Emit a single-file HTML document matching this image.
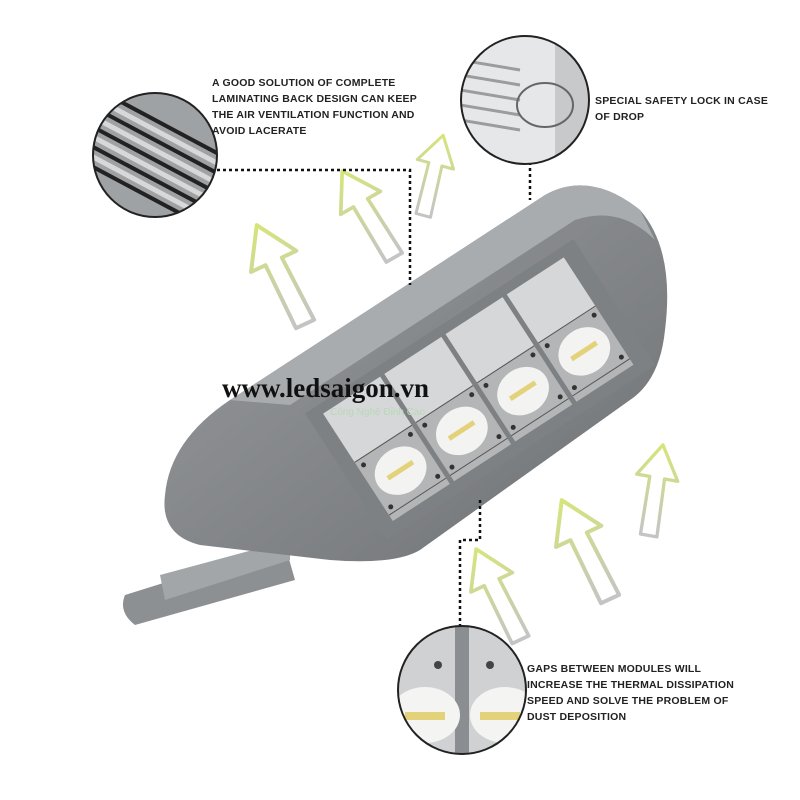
<!DOCTYPE html>
<html><head><style>
body{margin:0;width:800px;height:800px;background:#fff;overflow:hidden}
svg{position:absolute;left:0;top:0}
.t{font-family:"Liberation Sans",sans-serif;font-weight:bold;font-size:10.5px;fill:#222;letter-spacing:0.2px}
</style></head><body>
<svg width="800" height="800" viewBox="0 0 800 800">
<defs>
<linearGradient id="ag" x1="0" y1="0" x2="0" y2="1"><stop offset="0" stop-color="#d6e57a"/><stop offset="1" stop-color="#c4c4c4"/></linearGradient>
<linearGradient id="body" x1="0" y1="0" x2="1" y2="1"><stop offset="0" stop-color="#9a9c9f"/><stop offset="1" stop-color="#6f7275"/></linearGradient>
<symbol id="arr" viewBox="-30 -60 60 120"><path d="M0,-55 L25,-15 L9,-15 L12,55 L-8,55 L-9,-15 L-25,-15 Z" fill="none" stroke="url(#ag)" stroke-width="4" stroke-linejoin="round"/></symbol>
<clipPath id="c1"><circle cx="155" cy="155" r="62"/></clipPath>
<clipPath id="c2"><circle cx="525" cy="100" r="64"/></clipPath>
<clipPath id="c3"><circle cx="462" cy="690" r="64"/></clipPath>
</defs>
<use href="#arr" x="250" y="215" width="60" height="120" transform="rotate(-25 280 275)"/>
<use href="#arr" x="340" y="160" width="55" height="110" transform="rotate(-30 367 215)"/>
<use href="#arr" x="410" y="130" width="45" height="90" transform="rotate(15 432 175)"/>
<use href="#arr" x="470" y="540" width="55" height="110" transform="rotate(-25 497 595)"/>
<use href="#arr" x="555" y="490" width="60" height="120" transform="rotate(-25 585 550)"/>
<use href="#arr" x="630" y="440" width="50" height="100" transform="rotate(10 655 490)"/>
<path d="M125,595 L285,545 L295,580 L135,625 Q118,612 125,595Z" fill="#8d9093"/>
<path d="M160,575 L290,540 L290,560 L165,600Z" fill="#a3a6a9"/>
<path d="M165,495 Q170,440 230,400 L545,195 Q590,170 640,210 Q675,250 665,330 Q660,380 630,400 L420,550 Q395,565 330,560 L200,545 Q160,535 165,495Z" fill="url(#body)"/>
<path d="M230,400 L545,195 Q590,170 640,210 L655,240 Q620,205 575,220 L290,405 Z" fill="#a9acaf"/>
<!-- module band -->
<g transform="translate(491,406) rotate(-33)">
<rect x="-160" y="-95" width="320" height="150" fill="#7e8184"/>
<g id="m">
<rect x="-145" y="-85" width="68" height="58" fill="#d6d7d8"/>
<rect x="-145" y="-27" width="68" height="70" fill="#b3b5b7"/>
<line x1="-145" y1="-27" x2="-77" y2="-27" stroke="#555" stroke-width="1"/>
<line x1="-145" y1="36" x2="-77" y2="36" stroke="#555" stroke-width="1"/>
<ellipse cx="-111" cy="5" rx="27" ry="23" fill="#f3f3f1"/>
<rect x="-126" y="2" width="30" height="5" fill="#e4d27a"/>
<g fill="#333"><circle cx="-139" cy="-20" r="2.5"/><circle cx="-83" cy="-20" r="2.5"/><circle cx="-139" cy="30" r="2.5"/><circle cx="-83" cy="30" r="2.5"/></g>
</g>
<use href="#m" x="73"/><use href="#m" x="146"/><use href="#m" x="219"/>
</g>
<text x="222" y="397" font-family="Liberation Serif,serif" font-weight="bold" font-size="27" fill="#111">www.ledsaigon.vn</text>
<text x="330" y="415" font-family="Liberation Sans,sans-serif" font-size="10" fill="#b8d8b8">Công Nghệ Đỉnh Cao</text>
<g stroke="#111" stroke-width="2.5" stroke-dasharray="3,3" fill="none">
<path d="M217,170 L410,170 L410,285"/>
<path d="M530,162 L530,200"/>
<path d="M480,500 L480,540 L460,540 L460,626"/>
</g>
<g clip-path="url(#c1)"><rect x="90" y="90" width="130" height="130" fill="#9fa2a5"/>
<g stroke="#222" stroke-width="4"><path d="M80,120 L230,200"/><path d="M80,140 L230,220"/><path d="M80,100 L230,180"/><path d="M80,160 L230,240"/><path d="M80,80 L230,160"/></g>
<g stroke="#d8d8d8" stroke-width="5"><path d="M80,130 L230,210"/><path d="M80,110 L230,190"/><path d="M80,150 L230,230"/><path d="M80,90 L230,170"/></g></g>
<circle cx="155" cy="155" r="62" fill="none" stroke="#222" stroke-width="2"/>
<g clip-path="url(#c2)"><rect x="460" y="35" width="130" height="130" fill="#e6e7e8"/>
<g stroke="#9a9c9e" stroke-width="3"><path d="M460,60 L520,70"/><path d="M460,75 L520,85"/><path d="M460,90 L520,100"/><path d="M460,105 L520,115"/><path d="M460,120 L520,130"/></g>
<rect x="555" y="40" width="40" height="120" fill="#c7c9cb"/>
<ellipse cx="545" cy="105" rx="28" ry="22" fill="none" stroke="#666" stroke-width="2"/></g>
<circle cx="525" cy="100" r="64" fill="none" stroke="#222" stroke-width="2"/>
<g clip-path="url(#c3)"><rect x="395" y="625" width="135" height="130" fill="#cfd1d3"/>
<rect x="455" y="625" width="14" height="130" fill="#8b8e91"/>
<ellipse cx="425" cy="715" rx="35" ry="28" fill="#f4f4f2"/><ellipse cx="505" cy="715" rx="35" ry="28" fill="#f4f4f2"/>
<rect x="405" y="712" width="40" height="8" fill="#e4d27a"/><rect x="480" y="712" width="40" height="8" fill="#e4d27a"/>
<circle cx="438" cy="665" r="4" fill="#444"/><circle cx="490" cy="665" r="4" fill="#444"/></g>
<circle cx="462" cy="690" r="64" fill="none" stroke="#222" stroke-width="2"/>
<text class="t" x="212" y="86">A GOOD SOLUTION OF COMPLETE</text>
<text class="t" x="212" y="102">LAMINATING BACK DESIGN CAN KEEP</text>
<text class="t" x="212" y="118">THE AIR VENTILATION FUNCTION AND</text>
<text class="t" x="212" y="134">AVOID LACERATE</text>
<text class="t" x="595" y="104">SPECIAL SAFETY LOCK IN CASE</text>
<text class="t" x="595" y="120">OF DROP</text>
<text class="t" x="527" y="672">GAPS BETWEEN MODULES WILL</text>
<text class="t" x="527" y="688">INCREASE THE THERMAL DISSIPATION</text>
<text class="t" x="527" y="704">SPEED AND SOLVE THE PROBLEM OF</text>
<text class="t" x="527" y="720">DUST DEPOSITION</text>
</svg>
</body></html>
